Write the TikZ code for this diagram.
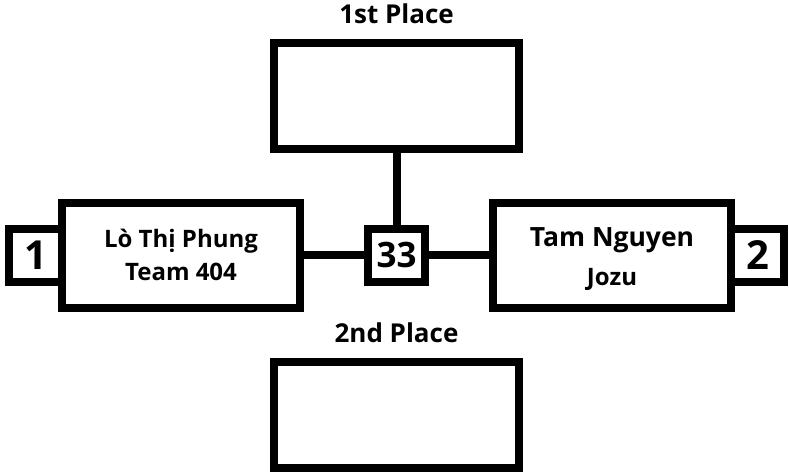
\documentclass[tikz,border=0pt]{standalone}
\usepackage{fontspec}
\setmainfont{Open Sans}
\usepackage{tikz}
\usetikzlibrary{positioning}
\newcommand{\leadname}{\fontsize{26.5}{30}\selectfont\rule{0pt}{27pt}}

\begin{document}
\begin{tikzpicture}[
  x=1pt, y=-1pt,
  font=\bfseries\fontsize{24}{33}\selectfont,
  box/.style={draw=black, line width=8pt, fill=white, align=center, inner sep=0pt},
  playerbox/.style={box, minimum width=238pt, minimum height=105pt},
  placebox/.style={box, minimum width=245pt, minimum height=106pt},
  seedbox/.style={box, minimum width=53pt, minimum height=53pt,
                  font=\bfseries\fontsize{40}{40}\selectfont},
  scorebox/.style={box, minimum width=57pt, minimum height=53pt,
                   font=\bfseries\fontsize{35}{35}\selectfont},
  title/.style={inner sep=0pt, text depth=0pt, font=\bfseries\fontsize{26}{30}\selectfont},
  link/.style={line width=8pt},
]
\useasboundingbox (0,0) rectangle (789,472);

\node[scorebox] (score) at (396.5,255) {33};
\node[playerbox, left=60pt of score] (p1) {L\`o Th\d{i} Phung\\Team 404};
\node[playerbox, right=60pt of score] (p2) {{\leadname Tam Nguyen}\\[6pt]Jozu};
\node[seedbox, left=-8pt of p1] (seed1) {1};
\node[seedbox, right=-8pt of p2] (seed2) {2};
\node[placebox, above=72pt of score] (first) {};
\node[placebox, below=72pt of score] (second) {};

\node[title, above=15pt of first] (firstlbl) {1st Place};
\node[title, above=15pt of second] (secondlbl) {2nd Place};

\draw[link] (first) -- (score);
\draw[link] (p1) -- (score);
\draw[link] (score) -- (p2);
\end{tikzpicture}
\end{document}
